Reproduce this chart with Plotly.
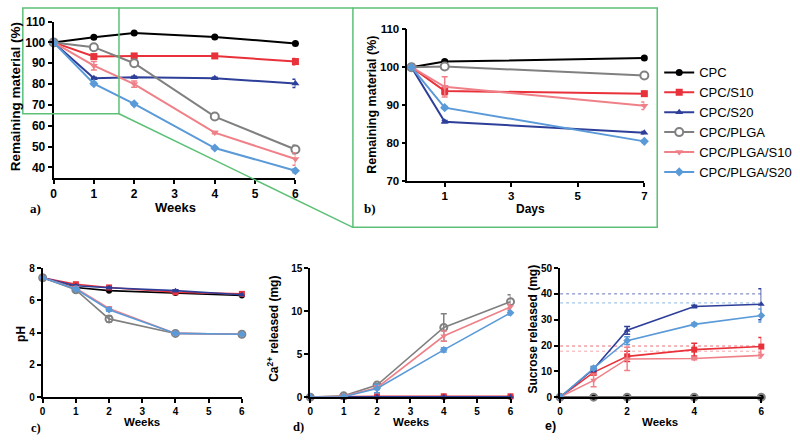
import plotly.graph_objects as go

W, H = 800, 441

# ---------------- data ----------------
names = ["CPC", "CPC/S10", "CPC/S20", "CPC/PLGA", "CPC/PLGA/S10", "CPC/PLGA/S20"]
weeks = [0, 1, 2, 4, 6]
days = [0, 1, 7]

# (a) remaining material (%) vs weeks
a_cpc = [100, 102.5, 104.5, 102.6, 99.5]
a_s10 = [100, 93.2, 93.5, 93.5, 90.8]
a_s20 = [100, 82.8, 83.3, 82.8, 80.3]
a_plga = [100, 97.7, 90.0, 64.4, 48.6]
a_plga_s10 = [100, 88.8, 80.0, 56.7, 44.0]
a_plga_s20 = [100, 80.2, 70.5, 49.3, 38.4]
a_err = [[0, 0.3, 0.3, 0.3, 0.5], [0, 0.6, 0.5, 0.5, 1.5], [0, 0.5, 0.5, 0.5, 2.0],
         [0, 0.5, 0.5, 0.5, 2.0], [0, 2.0, 1.5, 0.5, 3.0], [0, 0.5, 0.5, 0.5, 1.0]]

# (b) remaining material (%) vs days
b_cpc = [100, 101.5, 102.4]
b_s10 = [100, 93.7, 93.0]
b_s20 = [100, 85.6, 82.7]
b_plga = [100, 100.2, 97.8]
b_plga_s10 = [100, 94.8, 89.8]
b_plga_s20 = [100, 89.3, 80.4]
b_err = [[0, 0.3, 0.3], [0, 1.0, 0.5], [0, 0.3, 0.3],
         [0, 0.3, 0.3], [0, 2.7, 1.0], [0, 0.3, 0.3]]

# (c) pH vs weeks
c_cpc = [7.4, 6.8, 6.6, 6.45, 6.3]
c_s10 = [7.4, 7.0, 6.8, 6.5, 6.4]
c_s20 = [7.4, 6.9, 6.78, 6.6, 6.35]
c_plga = [7.4, 6.65, 4.85, 3.95, 3.9]
c_plga_s10 = [7.4, 6.75, 5.5, 3.95, 3.9]
c_plga_s20 = [7.4, 6.7, 5.42, 3.95, 3.9]
c_err = [[0, 0, 0, 0, 0], [0, 0.05, 0.05, 0.05, 0.05], [0, 0.05, 0.05, 0.05, 0.05],
         [0, 0.1, 0.2, 0.05, 0.05], [0, 0.1, 0.1, 0.05, 0.05], [0, 0.1, 0.1, 0.05, 0.05]]

# (d) Ca2+ released (mg) vs weeks
d_cpc = [0, 0.05, 0.05, 0.05, 0.05]
d_s10 = [0, 0.05, 0.1, 0.1, 0.1]
d_s20 = [0, 0.05, 0.05, 0.05, 0.05]
d_plga = [0, 0.15, 1.4, 8.1, 11.1]
d_plga_s10 = [0, 0.1, 1.1, 7.1, 10.5]
d_plga_s20 = [0, 0.05, 1.0, 5.5, 9.8]
d_err = [[0, 0, 0, 0, 0], [0, 0, 0, 0, 0], [0, 0, 0, 0, 0],
         [0, 0.1, 0.2, 1.6, 0.8], [0, 0.1, 0.2, 0.6, 0.3], [0, 0.05, 0.5, 0.25, 0.25]]

# (e) sucrose released (mg) vs weeks
e_cpc = [0, 0, 0, 0, 0]
e_s10 = [0, 9.6, 15.8, 18.4, 19.6]
e_s20 = [0, 10.9, 25.9, 35.1, 36.0]
e_plga = [0, 0, 0, 0, 0]
e_plga_s10 = [0, 6.5, 14.8, 15.0, 16.2]
e_plga_s20 = [0, 11.2, 21.9, 28.2, 31.6]
e_err = [[0, 0, 0, 0, 0], [0, 1.0, 2.0, 2.5, 3.5], [0, 1.0, 1.5, 0.5, 6.0],
         [0, 0, 0, 0, 0], [0, 2.5, 4.5, 0.5, 1.0], [0, 0.5, 1.5, 0.5, 2.5]]
# theoretical total sucrose (dotted lines)
e_max_names = ["CPC/S20", "CPC/PLGA/S20", "CPC/S10", "CPC/PLGA/S10"]
e_max = [40.0, 36.5, 19.8, 17.8]

# ---------------- style ----------------
colors = {"CPC": "#000000", "CPC/S10": "#e8313a", "CPC/S20": "#2e3f99",
          "CPC/PLGA": "#808080", "CPC/PLGA/S10": "#f08088", "CPC/PLGA/S20": "#5b9ad8"}
symbols = {"CPC": "circle", "CPC/S10": "square", "CPC/S20": "triangle-up",
           "CPC/PLGA": "circle", "CPC/PLGA/S10": "triangle-down", "CPC/PLGA/S20": "diamond"}
FONT = "Arial, Liberation Sans, sans-serif"
SERIF = "Liberation Serif, Times New Roman, serif"

def xd(a, b):
    return [a / W, b / W]

def yd(top, bottom):
    return [1 - bottom / H, 1 - top / H]

def px(x):
    return x / W

def py(y):
    return 1 - y / H

fig = go.Figure()

panels = [
    ("x", "y", weeks, [a_cpc, a_s10, a_s20, a_plga, a_plga_s10, a_plga_s20], a_err, 7, 2.0, False),
    ("x2", "y2", days, [b_cpc, b_s10, b_s20, b_plga, b_plga_s10, b_plga_s20], b_err, 7, 2.0, True),
    ("x3", "y3", weeks, [c_cpc, c_s10, c_s20, c_plga, c_plga_s10, c_plga_s20], c_err, 6, 1.6, False),
    ("x4", "y4", weeks, [d_cpc, d_s10, d_s20, d_plga, d_plga_s10, d_plga_s20], d_err, 6, 1.6, False),
    ("x5", "y5", weeks, [e_cpc, e_s10, e_s20, e_plga, e_plga_s10, e_plga_s20], e_err, 6, 1.6, False),
]

for xa, ya, xs, series, errs, msize, lw, legend in panels:
    if xa == "x5":
        for nm, v in zip(e_max_names, e_max):
            fig.add_trace(go.Scatter(x=[0, 6], y=[v, v], mode="lines", xaxis=xa, yaxis=ya,
                                     line=dict(color=colors[nm], width=1, dash="dot"),
                                     opacity=0.7, showlegend=False, hoverinfo="skip"))
    for nm, ys, er in zip(names, series, errs):
        c = colors[nm]
        if nm == "CPC/PLGA":
            if xa in ("x", "x2"):
                marker = dict(symbol="circle", size=msize + 1, color="white", line=dict(color=c, width=2))
            else:
                marker = dict(symbol="circle-open", size=msize + 1, color=c, line=dict(color=c, width=2))
        else:
            marker = dict(symbol=symbols[nm], size=msize, color=c, line=dict(width=0))
        fig.add_trace(go.Scatter(
            x=xs, y=ys, mode="lines+markers", name=nm, xaxis=xa, yaxis=ya,
            line=dict(color=c, width=lw), marker=marker, cliponaxis=False,
            error_y=dict(type="data", array=er, visible=True, color=c, thickness=1.5, width=3),
            showlegend=legend))

def axis_common(size):
    return dict(showline=True, linecolor="black", linewidth=1.8, ticks="outside",
                ticklen=4, tickwidth=1.5, tickcolor="black", showgrid=False, zeroline=False,
                tickfont=dict(family=FONT, size=size, color="black", weight="bold"))

fig.update_layout(
    width=W, height=H, margin=dict(l=0, r=0, t=0, b=0),
    paper_bgcolor="white", plot_bgcolor="white",
    font=dict(family=FONT, color="black"),
    xaxis=dict(domain=xd(51, 295), range=[0, 6], tickvals=[0, 1, 2, 3, 4, 5, 6], anchor="y", **axis_common(12)),
    yaxis=dict(domain=yd(15, 176), range=[35, 110], tickvals=[40, 50, 60, 70, 80, 90, 100, 110], anchor="x", **axis_common(12)),
    xaxis2=dict(domain=xd(408, 647), range=[-0.12, 7], tickvals=[1, 3, 5, 7], anchor="y2", **axis_common(11.5)),
    yaxis2=dict(domain=yd(23, 179), range=[70, 110], tickvals=[70, 80, 90, 100, 110], anchor="x2", **axis_common(11.5)),
    xaxis3=dict(domain=xd(40, 241), range=[0, 6], tickvals=[0, 1, 2, 3, 4, 5, 6], anchor="y3", **axis_common(10)),
    yaxis3=dict(domain=yd(269, 402), range=[0, 8], tickvals=[0, 2, 4, 6, 8], anchor="x3", **axis_common(10)),
    xaxis4=dict(domain=xd(310, 512), range=[0, 6], tickvals=[0, 1, 2, 3, 4, 5, 6], anchor="y4", **axis_common(10)),
    yaxis4=dict(domain=yd(269, 402), range=[0, 15], tickvals=[0, 5, 10, 15], anchor="x4", **axis_common(10)),
    xaxis5=dict(domain=xd(562, 765), range=[0, 6], tickvals=[0, 2, 4, 6], anchor="y5", **axis_common(10)),
    yaxis5=dict(domain=yd(269, 402), range=[0, 50], tickvals=[0, 10, 20, 30, 40, 50], anchor="x5", **axis_common(10)),
    legend=dict(x=px(662), y=py(52), xanchor="left", yanchor="top", bgcolor="rgba(0,0,0,0)",
                font=dict(family=FONT, size=13, color="black"), tracegroupgap=0, itemwidth=30),
    showlegend=True,
)

GREEN = "#5cc076"
shapes = [
    dict(type="rect", x0=px(20), x1=px(117), y0=py(110), y1=py(1)),
    dict(type="rect", x0=px(353), x1=px(660), y0=py(227), y1=py(1)),
    dict(type="line", x0=px(117), x1=px(353), y0=py(110), y1=py(227)),
    dict(type="line", x0=px(117), x1=px(353), y0=py(1), y1=py(1)),
]
for s in shapes:
    s.update(xref="paper", yref="paper", line=dict(color=GREEN, width=1.5))
fig.update_layout(shapes=shapes)

def ann(text, x, y, size, angle=0, family=FONT):
    fig.add_annotation(text=text, x=px(x), y=py(y), xref="paper", yref="paper",
                       showarrow=False, textangle=angle, xanchor="center", yanchor="middle",
                       font=dict(family=family, size=size, color="black", weight="bold"))

ann("Remaining material (%)", 12, 92, 13.5, -90)
ann("Weeks", 174, 207, 13)
ann("a)", 33, 208, 13, family=SERIF)
ann("Remaining material (%)", 372, 101, 12.5, -90)
ann("Days", 532, 208, 12)
ann("b)", 370, 208, 13, family=SERIF)
ann("pH", 18, 337, 12, -90)
ann("Weeks", 140, 428, 11.5)
ann("c)", 33, 434, 12.5, family=SERIF)
ann("Ca<sup>2+</sup> released (mg)", 273, 332, 12, -90)
ann("Weeks", 412, 428, 11.5)
ann("d)", 298, 433, 12.5, family=SERIF)
ann("Sucrose released (mg)", 535, 332, 12, -90)
ann("Weeks", 663, 428, 11.5)
ann("e)", 552, 432, 12.5)

fig.write_html("out.html", config={"displayModeBar": False},
               post_script="document.body.style.margin='0';document.body.style.overflow='hidden';")
